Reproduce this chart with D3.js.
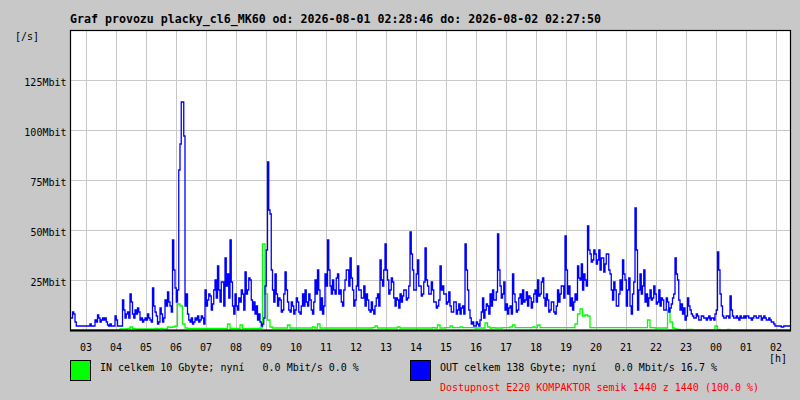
<!DOCTYPE html>
<html>
<head>
<meta charset="utf-8">
<script src="https://cdn.jsdelivr.net/npm/d3@7"></script>
<style>
  html, body { margin: 0; padding: 0; background: #c8c8c8; }
  svg { display: block; }
  text { font-family: "DejaVu Sans Mono", "Liberation Mono", monospace; white-space: pre; }
</style>
</head>
<body>
<svg id="chart" width="800" height="400"></svg>
<script>
// ---------- data ----------
const titleText = "Graf provozu placky_cl6_MK60 od: 2026-08-01 02:28:46 do: 2026-08-02 02:27:50";
const startTime = new Date(2026, 7, 1, 2, 28, 46);
const endTime = new Date(2026, 7, 2, 2, 28, 46);
const outStepMinutes = 2.5;
const inStepMinutes = 5;
const yTickValues = [25, 50, 75, 100, 125];
const yUnit = "Mbit";
const yAxisUnitLabel = "[/s]";
const xAxisUnitLabel = "[h]";

// OUT traffic, Mbit/s, one value per 2.5 minutes (grouped by hour)
const outMbit = [
  6,6, 9,8, 4,2, 2,2, 2,2, 2,2,
  2,2, 2,2, 3,2, 2,2, 5,4, 7.5,6, 4,5, 6,5, 6,4, 2.5,2, 3,2, 2,2,
  7,5, 2,2, 2,2, 15,10, 6,8, 9,6, 18,14, 8,6, 10,8, 11,9, 5,6, 4,5,
  6,5, 8,6, 5,4, 21,12, 9,7, 3,4, 11,8, 4,6, 15,12, 19,14, 12,9, 45,30,
  21,14, 20,80, 93,114, 114,97, 12,18, 8,5, 4,6, 3,4, 6,5, 7,4, 5,7, 6,3,
  20,12, 15,18, 17,10, 13,20, 25,16, 32,20, 14,24, 24,12, 36,22, 28,16, 45,24, 12,8,
  18,12, 10,16, 14,20, 18,10, 29,18, 20,26, 25,15, 10,14, 8,12, 5,8, 4,2, 3,6,
  22,40, 84,60, 58,30, 20,14, 28,18, 12,16, 15,9, 10,18, 29,20, 14,10, 9,14, 12,8,
  10,16, 14,9, 8,12, 18,12, 20,14, 12,18, 15,10, 8,14, 25,18, 30,20, 10,16, 8,12,
  28,22, 45,30, 22,18, 25,20, 18,26, 28,18, 20,14, 12,20, 25,30, 30,22, 36,26, 20,12,
  15,22, 32,20, 20,16, 16,22, 12,18, 15,10, 9,14, 10,8, 12,16, 18,12, 35,25, 22,30,
  43,30, 25,18, 20,26, 24,16, 12,16, 15,11, 18,14, 17,20, 20,15, 16,22, 49,38, 30,20,
  20,28, 35,22, 22,17, 18,24, 41,25, 22,18, 18,24, 20,14, 14,11, 12,15, 32,20, 22,18,
  18,13, 14,19, 12,9, 9,14, 14,8, 10,13, 8,11, 12,8, 43,30, 20,10, 6,3, 4,2,
  2,4, 3,2, 5,9, 16,6, 10,13, 12,8, 18,12, 20,15, 15,19, 48,30, 22,16, 18,24,
  10,13, 8,11, 12,8, 28,18, 14,9, 10,16, 18,13, 20,14, 15,19, 12,17, 16,11, 14,18,
  20,14, 25,17, 18,24, 26,16, 12,18, 15,9, 10,14, 14,9, 8,12, 20,14, 18,22, 22,16,
  47,30, 18,22, 12,16, 10,14, 18,15, 32,26, 25,33, 20,28, 25,22, 52,40, 38,34, 35,40,
  38,33, 35,40, 30,36, 36,29, 33,38, 38,30, 28,20, 15,24, 20,12, 12,18, 25,20, 35,28,
  25,12, 20,26, 12,8, 18,24, 61,40, 10,20, 28,18, 22,30, 14,18, 12,16, 20,15, 16,22,
  18,13, 14,20, 12,16, 15,10, 10,16, 14,9, 11,13, 16,18, 36,28, 25,15, 10,13, 8,11,
  5,7, 16,12, 10,8, 7,6, 6,8, 7,5, 5,7, 7,6, 6,5, 6,7, 5,6, 6,5,
  8,10, 39,30, 18,12, 7,6, 6,7, 7,6, 17,10, 7,6, 6,7, 6,5, 7,6, 6,7,
  6,7, 7,6, 6,5, 6,7, 7,6, 6,7, 7,5, 6,7, 6,5, 5,6, 5,4, 4,3,
  2,2, 2,2, 2,1.5, 1.5,2, 2,2, 2,2
];

// IN traffic, Mbit/s, one value per 5 minutes (grouped by hour)
const inMbit = [
  0, 0, 0, 0, 0, 0,
  0, 0, 0, 0, 0, 0, 0, 0, 0, 0, 0, 0,
  0, 0, 0.5, 0.5, 0.5, 0.8, 1.5, 0.8, 0.5, 0.5, 0.5, 0.5,
  0.5, 0.5, 0.5, 0.5, 0.8, 0.5, 0.8, 0.5, 0.5, 1.5, 1.3, 1.5,
  2, 13, 12, 3, 1, 0.8, 0.8, 0.8, 0.8, 0.8, 0.8, 0.8,
  0.8, 0.8, 0.8, 0.8, 0.8, 0.8, 0.8, 0.8, 0.8, 3, 0.8, 0.8,
  0.8, 0.8, 2.5, 0.8, 0.8, 0.8, 0.8, 0.8, 0.8, 0.8, 1, 43,
  18, 5, 1.5, 1, 1, 1, 1, 1, 1, 2.5, 1, 1,
  1, 1, 1, 1, 1, 1, 1, 1.5, 1, 3, 1, 1,
  1, 1, 1, 1, 1, 1, 1, 1, 1, 1, 1, 1,
  1, 1, 1, 1, 1, 1, 1, 1.2, 2, 1, 1, 1,
  1, 1, 1, 1, 1, 1.5, 1, 1, 1, 1, 1, 1,
  1, 1, 1, 1, 1, 1, 1, 1.2, 1, 2.5, 1, 1,
  1.2, 1.2, 2, 1.2, 1.2, 1.2, 1.5, 1.2, 1.2, 1.2, 1.2, 1.2,
  1, 1, 1, 1, 3.5, 1.5, 1, 1.2, 1, 1, 1, 1.2,
  1.2, 1.2, 1.5, 2.5, 1.2, 1.2, 1.2, 1.2, 1.2, 1.2, 1.2, 1.5,
  1.2, 2.5, 1.2, 1.2, 1.2, 1.2, 1.2, 1.2, 1.2, 1.2, 1.2, 1.2,
  1.2, 1.2, 1.2, 1.2, 3, 8, 10.5, 7, 7.5, 7, 1.2, 1.2,
  1.2, 1.2, 1.2, 1.2, 1.2, 1.2, 1.2, 1.2, 1.2, 1.2, 1.2, 1.2,
  1.2, 1.2, 1.2, 1.2, 1.2, 1.2, 1.2, 1.2, 1.2, 5, 1.2, 1.2,
  1, 1, 1, 1, 1, 10, 4, 1, 0.5, 0.3, 0, 0,
  0, 0.3, 0.3, 0, 0, 0, 0, 0, 0, 0, 0, 0,
  2, 0.3, 0, 0, 0, 0.3, 0, 0, 0, 0, 0, 0,
  0, 0, 0, 0, 0, 0, 0, 0, 0, 0, 0, 0,
  0, 0, 0, 0, 0, 0
];

const legendIn = "IN celkem 10 Gbyte; nyní   0.0 Mbit/s 0.0 %";
const legendOut = "OUT celkem 138 Gbyte; nyní   0.0 Mbit/s 16.7 %";
const legendAvail = "Dostupnost E220 KOMPAKTOR semik 1440 z 1440 (100.0 %)";

// ---------- layout ----------
const plot = { left: 70, right: 790, top: 30, bottom: 330 };
const colIn = "#00ff00", colOut = "#0000ff", gridCol = "#c8c8c8";

const svg = d3.select("#chart");
svg.append("rect").attr("width", 800).attr("height", 400).attr("fill", "#c8c8c8");

const x = d3.scaleTime().domain([startTime, endTime]).range([plot.left, plot.right]);
const y = d3.scaleLinear().domain([0, 150]).range([plot.bottom, plot.top]);

// plot background
svg.append("rect")
  .attr("x", plot.left).attr("y", plot.top)
  .attr("width", plot.right - plot.left).attr("height", plot.bottom - plot.top)
  .attr("fill", "#ffffff");

// grid
const hourTicks = x.ticks(d3.timeHour.every(1));
svg.append("g").selectAll("line").data(hourTicks).join("line")
  .attr("x1", d => Math.round(x(d)) + 0.5).attr("x2", d => Math.round(x(d)) + 0.5)
  .attr("y1", plot.top).attr("y2", plot.bottom)
  .attr("stroke", gridCol).attr("stroke-width", 1);

svg.append("g").selectAll("line").data(yTickValues).join("line")
  .attr("x1", plot.left - 4).attr("x2", plot.right)
  .attr("y1", d => y(d) + 0.5).attr("y2", d => y(d) + 0.5)
  .attr("stroke", gridCol).attr("stroke-width", 1);

// series
function toPoints(arr, stepMin) {
  const pts = arr.map((v, i) => ({ t: new Date(startTime.getTime() + i * stepMin * 60000), v }));
  pts.push({ t: endTime, v: arr[arr.length - 1] });
  return pts;
}
const line = d3.line().x(d => x(d.t)).y(d => y(d.v)).curve(d3.curveStepAfter);

svg.append("clipPath").attr("id", "pclip").append("rect")
  .attr("x", plot.left).attr("y", plot.top)
  .attr("width", plot.right - plot.left).attr("height", plot.bottom - plot.top);

svg.append("path").datum(toPoints(inMbit, inStepMinutes))
  .attr("d", line).attr("fill", "none").attr("stroke", colIn)
  .attr("stroke-width", 1.3).attr("clip-path", "url(#pclip)");
svg.append("path").datum(toPoints(outMbit, outStepMinutes))
  .attr("d", line).attr("fill", "none").attr("stroke", colOut)
  .attr("stroke-width", 1.3).attr("clip-path", "url(#pclip)");

// frame
svg.append("rect")
  .attr("x", plot.left + 0.5).attr("y", plot.top + 0.5)
  .attr("width", plot.right - plot.left).attr("height", plot.bottom - plot.top)
  .attr("fill", "none").attr("stroke", "#000").attr("stroke-width", 1.2);
svg.append("line")
  .attr("x1", plot.left).attr("x2", plot.right + 1)
  .attr("y1", plot.bottom + 0.5).attr("y2", plot.bottom + 0.5)
  .attr("stroke", "#000").attr("stroke-width", 2);

// title
svg.append("text").attr("x", 70).attr("y", 23)
  .attr("font-size", "11.6px").attr("font-weight", "bold")
  .attr("textLength", 531).attr("lengthAdjust", "spacingAndGlyphs")
  .text(titleText);

// y labels
svg.append("g").selectAll("text").data(yTickValues).join("text")
  .attr("x", 66.5).attr("y", d => y(d) + 5.5)
  .attr("text-anchor", "end").attr("font-size", "10px")
  .text(d => d + yUnit);
svg.append("text").attr("x", 15).attr("y", 40).attr("font-size", "10px").text(yAxisUnitLabel);

// x labels
svg.append("g").selectAll("text").data(hourTicks).join("text")
  .attr("x", d => x(d) + 0.5).attr("y", 351)
  .attr("text-anchor", "middle").attr("font-size", "10px")
  .text(d3.timeFormat("%H"));
svg.append("text").attr("x", 769).attr("y", 362).attr("font-size", "10px").text(xAxisUnitLabel);

// legend
svg.append("rect").attr("x", 70.5).attr("y", 360.5).attr("width", 20).attr("height", 20)
  .attr("fill", colIn).attr("stroke", "#000").attr("stroke-width", 1);
svg.append("text").attr("x", 100).attr("y", 371).attr("font-size", "10px").text(legendIn);
svg.append("rect").attr("x", 410.5).attr("y", 360.5).attr("width", 20).attr("height", 20)
  .attr("fill", colOut).attr("stroke", "#000").attr("stroke-width", 1);
svg.append("text").attr("x", 440).attr("y", 371).attr("font-size", "10px").text(legendOut);
svg.append("text").attr("x", 440).attr("y", 391).attr("font-size", "10px")
  .attr("fill", "#ff0000").text(legendAvail);
</script>
</body>
</html>
